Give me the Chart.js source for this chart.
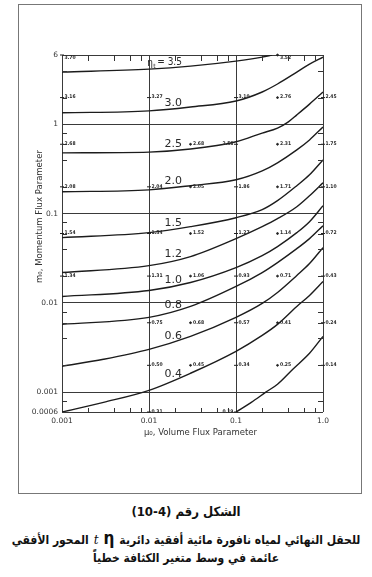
<!DOCTYPE html>
<html>
<head>
<meta charset="utf-8">
<script src="https://cdn.jsdelivr.net/npm/chart.js@4/dist/chart.umd.min.js"></script>
<style>
  body { margin: 0; width: 372px; height: 577px; background: #fff; position: relative; overflow: hidden; }
  #frame { position: absolute; left: 18px; top: 4px; width: 342px; height: 488px; border: 1px solid #777; }
  #c { position: absolute; left: 0; top: 0; }
  .cap { position: absolute; left: 0; width: 372px; text-align: center; font-family: 'DejaVu Sans Condensed', 'DejaVu Sans'; font-weight: bold; color: #111; white-space: nowrap; }
  .row { display: flex; justify-content: center; align-items: baseline; direction: ltr; gap: 5px; }
</style>
</head>
<body>
<div id="frame"></div>
<canvas id="c" width="372" height="500"></canvas>
<div class="cap" dir="rtl" style="top:504px;font-size:13px">الشكل رقم (4-10)</div>
<div class="cap row" style="top:528px;font-size:12px"><span dir="rtl">المحور الأفقي</span><i style="font-family:'DejaVu Serif';font-weight:normal;font-size:12px">t</i><span style="font-size:17px">η</span><span dir="rtl">للحقل النهائي لمياه نافورة مائية أفقية دائرية</span></div>
<div class="cap" dir="rtl" style="top:551px;font-size:12px">عائمة في وسط متغير الكثافة خطياً</div>
<script>
// axis ticks
const xTickValues = [0.001, 0.01, 0.1, 1];
const xTickLabels = ['0.001', '0.01', '0.1', '1.0'];
const yTickValues = [0.0006, 0.001, 0.01, 0.1, 1, 6];
const yTickLabels = ['0.0006', '0.001', '0.01', '0.1', '1', '6'];

// eta_t curves
const eta35X = [0.001, 0.01, 0.03, 0.1, 0.2, 0.26];
const eta35Y = [3.86, 4.17, 4.5, 5.12, 5.68, 6.0];
const eta30X = [0.001, 0.01, 0.03, 0.1, 0.2, 0.3, 0.5, 0.7, 1.0];
const eta30Y = [1.35, 1.42, 1.57, 1.83, 2.31, 2.84, 3.86, 4.74, 5.68];
const eta25X = [0.001, 0.01, 0.03, 0.1, 0.2, 0.3, 0.4, 0.5, 0.7, 1.0];
const eta25Y = [0.48, 0.49, 0.53, 0.64, 0.80, 0.91, 1.07, 1.28, 1.69, 2.31];
const eta20X = [0.001, 0.01, 0.03, 0.1, 0.2, 0.3, 0.5, 0.7, 1.0];
const eta20Y = [0.176, 0.185, 0.206, 0.240, 0.302, 0.372, 0.519, 0.671, 0.938];
const eta15X = [0.001, 0.01, 0.03, 0.1, 0.2, 0.3, 0.5, 0.7, 1.0];
const eta15Y = [0.0539, 0.0613, 0.0716, 0.0902, 0.111, 0.140, 0.206, 0.273, 0.401];
const eta12X = [0.001, 0.01, 0.03, 0.1, 0.2, 0.3, 0.5, 0.7, 1.0];
const eta12Y = [0.0219, 0.0262, 0.0331, 0.0526, 0.0716, 0.0879, 0.1197, 0.1589, 0.222];
const eta10X = [0.001, 0.01, 0.03, 0.1, 0.2, 0.3, 0.5, 0.7, 1.0];
const eta10Y = [0.01182, 0.01379, 0.01695, 0.0249, 0.0339, 0.0428, 0.0613, 0.0814, 0.1229];
const eta08X = [0.001, 0.01, 0.03, 0.1, 0.2, 0.3, 0.5, 0.7, 1.0];
const eta08Y = [0.00575, 0.00689, 0.00914, 0.01529, 0.0219, 0.02835, 0.0406, 0.0526, 0.0734];
const eta06X = [0.001, 0.003, 0.01, 0.03, 0.1, 0.2, 0.3, 0.5, 0.7, 1.0];
const eta06Y = [0.00195, 0.00234, 0.00302, 0.00422, 0.00689, 0.00987, 0.0131, 0.0203, 0.0276, 0.0417];
const eta04X = [0.001, 0.003, 0.01, 0.03, 0.1, 0.2, 0.3, 0.5, 0.7, 1.0];
const eta04Y = [0.0006, 0.00077, 0.00105, 0.00163, 0.00287, 0.00433, 0.00575, 0.00914, 0.01213, 0.01739];
const etaLowX = [0.1, 0.15, 0.22, 0.3, 0.45, 0.7, 1.0];
const etaLowY = [0.0006, 0.00077, 0.001, 0.00123, 0.00181, 0.00273, 0.00422];

// measured eta_t values printed on the grid
const muCols = [0.001, 0.01, 0.03, 0.1, 0.3, 1.0];
const m0Rows = [6, 2, 0.6, 0.2, 0.06, 0.02, 0.006, 0.002, 0.0006];
const etaTable = [
  [3.70, null, null, null, 3.52, null],
  [3.16, 3.27, null, 3.10, 2.76, 2.45],
  [2.68, null, 2.68, 2.58, 2.31, 1.75],
  [2.08, 2.04, 2.05, 1.86, 1.71, 1.10],
  [1.54, 1.54, 1.52, 1.27, 1.14, 0.72],
  [1.34, 1.31, 1.06, 0.93, 0.71, 0.43],
  [null, 0.75, 0.68, 0.57, 0.41, 0.24],
  [null, 0.50, 0.45, 0.34, 0.25, 0.14],
  [null, 0.31, null, 0.19, null, null]
];

const curves = [
  ['3.5', eta35X, eta35Y], ['3.0', eta30X, eta30Y], ['2.5', eta25X, eta25Y],
  ['2.0', eta20X, eta20Y], ['1.5', eta15X, eta15Y], ['1.2', eta12X, eta12Y],
  ['1.0', eta10X, eta10Y], ['0.8', eta08X, eta08Y], ['0.6', eta06X, eta06Y],
  ['0.4', eta04X, eta04Y], ['', etaLowX, etaLowY]
];

const datasets = curves.map(([name, xs, ys]) => ({
  type: 'line',
  label: name,
  data: xs.map((x, i) => ({ x: x, y: ys[i] })),
  borderColor: '#1c1c1c',
  borderWidth: 1.4,
  pointRadius: 0,
  cubicInterpolationMode: 'monotone',
  fill: false
}));

const points = [];
m0Rows.forEach((m, r) => muCols.forEach((mu, c) => {
  if (etaTable[r][c] !== null) points.push({ x: mu, y: m, v: etaTable[r][c] });
}));
const isDecade = v => Math.abs(Math.log10(v) - Math.round(Math.log10(v))) < 1e-9;

datasets.push({
  type: 'scatter',
  label: 'data',
  data: points,
  showLine: false,
  clip: false,
  pointStyle: c => isDecade(c.raw.x) ? 'line' : 'circle',
  pointRadius: c => isDecade(c.raw.x) ? 2 : 0.9,
  borderWidth: 1,
  borderColor: '#222',
  backgroundColor: '#222'
});

const leftPlaced = [[0.6, 0.1], [0.0006, 0.1]];

const decor = {
  id: 'decor',
  afterDatasetsDraw(chart) {
    const { ctx, chartArea: a, scales: { x, y } } = chart;
    ctx.save();

    // minor ticks at 2, 4, 6, 8 of each decade, pointing inward
    ctx.strokeStyle = '#333';
    ctx.lineWidth = 1;
    ctx.beginPath();
    [0.001, 0.01, 0.1].forEach(d => [2, 4, 6, 8].forEach(k => {
      const px = Math.round(x.getPixelForValue(d * k)) + 0.5;
      ctx.moveTo(px, a.top); ctx.lineTo(px, a.top + 6);
      ctx.moveTo(px, a.bottom); ctx.lineTo(px, a.bottom - 4);
    }));
    [0.0001, 0.001, 0.01, 0.1, 1].forEach(d => [2, 4, 6, 8].forEach(k => {
      const v = d * k;
      if (v < 0.00065 || v > 5.9) return;
      const py = Math.round(y.getPixelForValue(v)) + 0.5;
      ctx.moveTo(a.left, py); ctx.lineTo(a.left + 5, py);
      ctx.moveTo(a.right, py); ctx.lineTo(a.right - 5, py);
    }));
    ctx.stroke();

    // axis titles
    ctx.fillStyle = '#333';
    ctx.textAlign = 'center';
    ctx.textBaseline = 'middle';
    ctx.font = '8.5px "DejaVu Sans"';
    ctx.fillText('μ₀, Volume Flux Parameter', (a.left + a.right) / 2 + 8, a.bottom + 21);
    ctx.save();
    ctx.translate(a.left - 22, (a.top + a.bottom) / 2 - 17);
    ctx.rotate(-Math.PI / 2);
    ctx.fillText('m₀, Momentum Flux Parameter', 0, 0);
    ctx.restore();

    // curve labels, sitting just above each curve
    const lx = x.getPixelForValue(0.019);
    ctx.fillStyle = '#2a2a2a';
    ctx.textBaseline = 'alphabetic';
    chart.data.datasets.forEach((ds, i) => {
      if (ds.type !== 'line' || !ds.label) return;
      const pts = chart.getDatasetMeta(i).data;
      let ly = pts[0].y;
      for (let j = 1; j < pts.length; j++) {
        if (pts[j].x >= lx) {
          const t = (lx - pts[j - 1].x) / (pts[j].x - pts[j - 1].x);
          ly = pts[j - 1].y + t * (pts[j].y - pts[j - 1].y);
          break;
        }
      }
      ctx.font = '11px "DejaVu Sans"';
      if (ds.label === '3.5') {
        ctx.textAlign = 'left';
        ctx.font = '10px "DejaVu Sans Condensed", "DejaVu Sans"';
        ctx.fillText('η', lx - 26, ly - 1);
        ctx.font = '6px "DejaVu Sans"';
        ctx.fillText('t', lx - 20, ly + 1);
        ctx.font = '10px "DejaVu Sans Condensed", "DejaVu Sans"';
        ctx.fillText('= 3.5', lx - 16, ly - 2);
        ctx.textAlign = 'center';
      } else {
        ctx.textAlign = 'center';
        ctx.fillText(ds.label, lx, ly - 3);
      }
    });

    // printed values next to the measured points
    ctx.font = 'bold 5px "DejaVu Sans Condensed", "DejaVu Sans"';
    ctx.textBaseline = 'middle';
    const meta = chart.getDatasetMeta(chart.data.datasets.length - 1);
    meta.data.forEach((el, i) => {
      const p = points[i];
      const left = leftPlaced.some(q => q[0] === p.y && q[1] === p.x);
      const ty = Math.max(el.y, a.top + 3);
      ctx.textAlign = left ? 'right' : 'left';
      ctx.fillText(p.v.toFixed(2), left ? el.x - 2.5 : el.x + 2.5, ty - 0.5);
    });
    ctx.restore();
  }
};

Chart.defaults.font.family = '"DejaVu Sans"';
Chart.defaults.color = '#333';

new Chart(document.getElementById('c'), {
  type: 'line',
  data: { datasets: datasets },
  options: {
    responsive: false,
    animation: false,
    devicePixelRatio: 1,
    layout: { padding: { left: 26, right: 49, top: 55, bottom: 60 } },
    plugins: { legend: { display: false }, tooltip: { enabled: false } },
    scales: {
      x: {
        type: 'logarithmic',
        min: 0.001,
        max: 1,
        afterBuildTicks: s => { s.ticks = xTickValues.map(v => ({ value: v })); },
        afterFit: s => { s.height = 28; },
        grid: { color: '#3a3a3a', lineWidth: 1, drawTicks: false },
        border: { display: false },
        ticks: { autoSkip: false, maxRotation: 0, padding: 5, font: { size: 7.5 }, callback: (v, i) => xTickLabels[i] }
      },
      y: {
        type: 'logarithmic',
        min: 0.0006,
        max: 6,
        afterBuildTicks: s => { s.ticks = yTickValues.map(v => ({ value: v })); },
        afterFit: s => { s.width = 36; },
        grid: { color: '#3a3a3a', lineWidth: 1, drawTicks: false },
        border: { display: false },
        ticks: { autoSkip: false, padding: 4, font: { size: 7.5 }, callback: (v, i) => yTickLabels[i] }
      }
    }
  },
  plugins: [decor]
});
</script>
</body>
</html>
